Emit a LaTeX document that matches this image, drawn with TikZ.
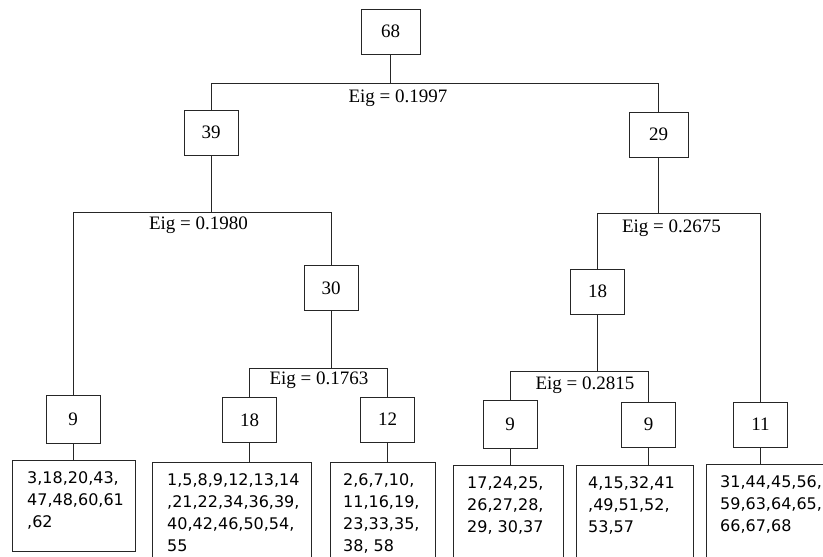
\documentclass[tikz,border=0pt]{standalone}
\usepackage{fontspec}
\setmainfont{Liberation Serif}
\newfontfamily\leaffont{DejaVu Sans}
\usepackage{xcolor}
\usepackage{tikz}
\usetikzlibrary{positioning, calc}

\begin{document}
\begin{tikzpicture}[
    x=1pt, y=-1pt,
    cnt/.style={rectangle, draw=black!85, line width=0.9pt, minimum width=54pt, minimum height=45pt, inner sep=0pt, font=\fontsize{19}{22}\selectfont},
    leafbox/.style={rectangle, draw=black!85, line width=0.9pt, anchor=north west, inner sep=0pt, minimum height=110pt},
    leaftext/.style={anchor=north west, inner sep=0pt, align=left, font=\leaffont\fontsize{16}{22}\selectfont},
    eig/.style={inner sep=0pt, font=\fontsize{19}{22}\selectfont},
    edge/.style={draw=black!85, line width=0.9pt}
]
\path[use as bounding box, fill=white] (0,0) rectangle (823,557);
\clip (0,0) rectangle (823,557);

% Top: root and first split
\node[cnt, minimum width=59pt] (n68) at (390.5,31.5) {68};
\node[cnt] (n39) at (211,132.5) {39};
\node[cnt, minimum width=59pt] (n29) at (658.5,134.5) {29};

% Middle: second level
\node[cnt] (n30) at (331,288) {30};
\node[cnt] (n18r) at (597.5,291.5) {18};

% Bottom: clusters
\node[cnt, minimum height=48pt] (n9l) at (73,419) {9};
\node[cnt] (n18l) at (249.5,420) {18};
\node[cnt] (n12) at (387.5,419.5) {12};
\node[cnt, minimum height=48pt] (n9a) at (510,424) {9};
\node[cnt] (n9b) at (648.5,424.5) {9};
\node[cnt] (n11) at (760.5,424.5) {11};

% Leaves: member lists
\node[leafbox, minimum width=123pt, minimum height=91pt] (l1) at (12,460) {};
\node[leafbox, minimum width=159pt] (l2) at (152,462) {};
\node[leafbox, minimum width=105pt] (l3) at (330,462) {};
\node[leafbox, minimum width=110pt] (l4) at (453,465) {};
\node[leafbox, minimum width=117pt] (l5) at (576,465) {};
\node[leafbox, minimum width=130pt] (l6) at (706,464) {};

\node[leaftext] (t1) at ([shift={(15,11)}]l1.north west) {3,18,20,43,\\47,48,60,61\\,62};
\node[leaftext] (t2) at ([shift={(15,11)}]l2.north west) {1,5,8,9,12,13,14\\,21,22,34,36,39,\\40,42,46,50,54,\\55};
\node[leaftext] (t3) at ([shift={(13,11)}]l3.north west) {2,6,7,10,\\11,16,19,\\23,33,35,\\38, 58};
\node[leaftext] (t4) at ([shift={(14,11)}]l4.north west) {17,24,25,\\26,27,28,\\29, 30,37};
\node[leaftext] (t5) at ([shift={(12,11)}]l5.north west) {4,15,32,41\\,49,51,52,\\53,57};
\node[leaftext] (t6) at ([shift={(14,11)}]l6.north west) {31,44,45,56,\\59,63,64,65,\\66,67,68};

% Splits
\draw[edge] (n68.south) -- ++(0,29) coordinate (b68);
\draw[edge] (n39.north) |- (b68) -| (n29.north);

\draw[edge] (n39.south) -- ++(0,57) coordinate (b39);
\draw[edge] (n9l.north) |- (b39) -| (n30.north);

\draw[edge] (n29.south) -- ++(0,56) coordinate (b29);
\draw[edge] (n18r.north) |- (b29) -| (n11.north);

\draw[edge] (n30.south) -- ++(0,57) coordinate (b30);
\draw[edge] (n18l.north) |- (b30) -| (n12.north);

\draw[edge] (n18r.south) -- ++(0,57) coordinate (b18);
\draw[edge] (n9a.north) |- (b18) -| (n9b.north);

% Eigen labels
\node[eig] (e68) at (398,98) {Eig = 0.1997};
\node[eig] (e39) at (198.5,225) {Eig = 0.1980};
\node[eig] (e29) at (671.5,228) {Eig = 0.2675};
\node[eig] (e30) at (319,380) {Eig = 0.1763};
\node[eig] (e18) at (585,385) {Eig = 0.2815};

% Cluster to leaf
\draw[edge] (n9l.south) -- (n9l.south |- l1.north);
\draw[edge] (n18l.south) -- (n18l.south |- l2.north);
\draw[edge] (n12.south) -- (n12.south |- l3.north);
\draw[edge] (n9a.south) -- (n9a.south |- l4.north);
\draw[edge] (n9b.south) -- (n9b.south |- l5.north);
\draw[edge] (n11.south) -- (n11.south |- l6.north);

\end{tikzpicture}
\end{document}
